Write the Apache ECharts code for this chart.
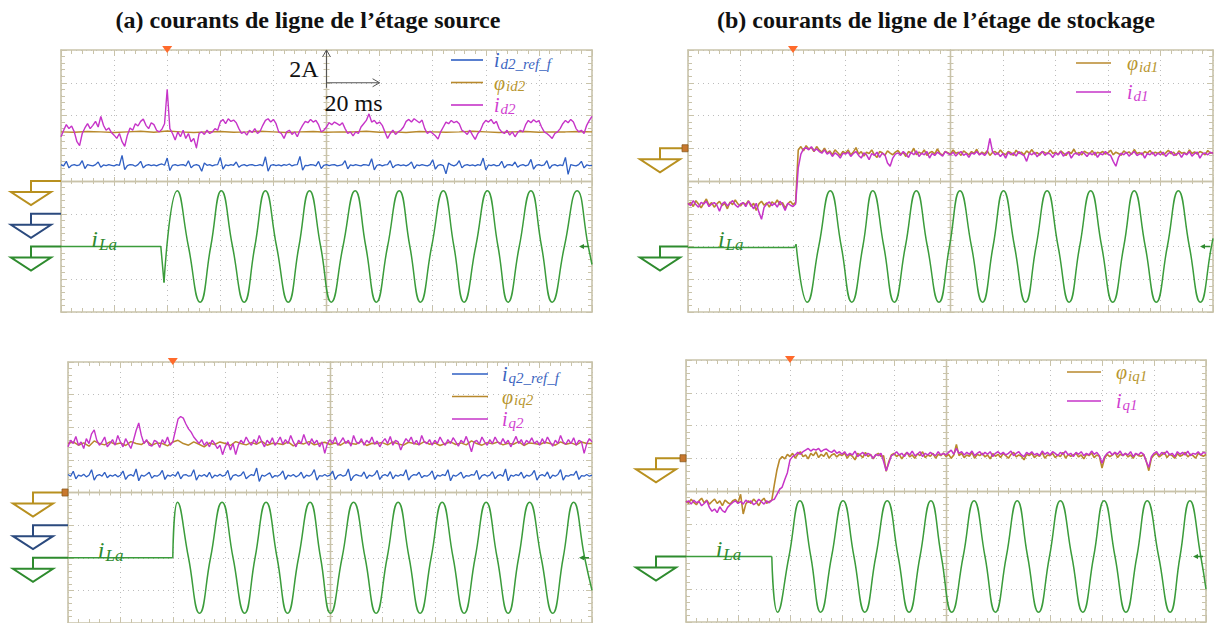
<!DOCTYPE html>
<html>
<head>
<meta charset="utf-8">
<title>courants de ligne</title>
<script src="https://cdn.jsdelivr.net/npm/echarts@6/dist/echarts.min.js"></script>
<style>
html,body{margin:0;padding:0;background:#ffffff;}
#chart{width:1215px;height:623px;}
</style>
</head>
<body>
<div id="chart"></div>
<script>
// ===== DATA (oscilloscope divisions: time -5..5 div, amplitude -4..4 div) =====
const X_MIN = -5, X_MAX = 5, Y_MIN = -4, Y_MAX = 4;
const STEP_FINE = 0.05, STEP_MID = 0.1, STEP_FLAT = 0.25;

const titles = ['(a) courants de ligne de l\u2019étage source', '(b) courants de ligne de l\u2019étage de stockage'];
const scaleLabels = ['2A', '20 ms'];
const iLaText = ['i', 'La'];

const legendA1 = ['id2_ref_f', 'φid2', 'id2'];
const legendB1 = ['φid1', 'id1'];
const legendA2 = ['iq2_ref_f', 'φiq2', 'iq2'];
const legendB2 = ['φiq1', 'iq1'];

// ---- (a) top : source stage, d axis ----
const a1_phi = [1.5,1.49,1.51,1.5,1.48,1.5,1.52,1.49,1.53,1.5,
 1.48,1.5,1.51,1.49,1.5,1.52,1.5,1.48,1.5,1.51,
 1.49,1.5,1.5,1.52,1.49,1.5,1.48,1.51,1.5,1.49,
 1.5,1.52,1.5,1.48,1.5,1.51,1.49,1.5,1.5,1.51,1.5];
const a1_id = [
 1.35,1.55,1.72,1.6,1.68,1.5,1.2,1.08,1.45,1.62,1.75,1.6,1.7,1.82,1.65,1.97,1.7,1.55,1.62,1.48,
 1.4,1.3,1.45,1.2,1.06,1.4,1.62,1.55,1.75,1.68,1.82,1.89,1.7,1.6,1.78,1.72,1.55,1.5,1.58,1.75,
 2.8,1.6,1.45,1.25,1.5,1.35,1.55,1.3,1.45,1.2,1.3,1.01,1.45,1.5,1.42,1.55,1.45,1.5,1.6,1.55,
 1.8,1.88,1.75,1.9,1.82,1.86,1.78,1.6,1.45,1.5,1.4,1.55,1.48,1.6,1.45,1.52,1.7,1.85,1.9,1.8,
 1.88,1.75,1.5,1.45,1.3,1.5,1.55,1.42,1.5,1.35,1.55,1.7,1.82,1.78,1.88,1.8,1.85,1.72,1.5,1.55,
 1.65,1.78,1.72,1.8,1.75,1.7,1.78,1.6,1.45,1.5,1.38,1.5,1.45,1.65,1.75,1.85,2.05,1.8,1.85,1.75,
 1.8,1.7,1.5,1.3,1.45,1.55,1.42,1.5,1.55,1.65,1.82,1.88,1.8,1.9,1.84,1.78,1.86,1.6,1.45,1.52,
 1.45,1.38,1.28,1.5,1.65,1.8,1.75,1.85,1.78,1.82,1.75,1.55,1.5,1.42,1.55,1.4,1.27,1.45,1.55,1.75,
 1.85,1.8,1.88,1.75,1.82,1.6,1.5,1.45,1.55,1.4,1.5,1.35,1.48,1.55,1.5,1.72,1.85,1.78,1.87,1.8,
 1.84,1.65,1.5,1.45,1.38,1.3,1.45,1.5,1.6,1.75,1.85,1.78,1.88,1.8,1.6,1.5,1.55,1.45,1.7,1.85,
 1.97];
const a1_ref = [
 0.5,0.46,0.6,0.4,0.48,0.5,0.47,0.49,0.62,0.38,0.5,0.48,0.46,0.5,0.58,0.42,0.49,0.47,0.5,0.48,
 0.46,0.5,0.48,0.78,0.35,0.47,0.5,0.49,0.45,0.5,0.6,0.4,0.48,0.5,0.47,0.49,0.46,0.5,0.52,0.48,
 0.7,0.32,0.48,0.5,0.47,0.49,0.5,0.46,0.62,0.4,0.48,0.5,0.47,0.3,0.55,0.48,0.5,0.46,0.49,0.5,
 0.72,0.36,0.49,0.47,0.5,0.48,0.58,0.42,0.48,0.5,0.46,0.49,0.5,0.47,0.48,0.5,0.46,0.74,0.3,0.48,
 0.5,0.47,0.49,0.46,0.5,0.48,0.52,0.46,0.49,0.5,0.75,0.33,0.48,0.47,0.5,0.49,0.46,0.6,0.38,0.48,
 0.5,0.47,0.49,0.5,0.46,0.48,0.5,0.62,0.37,0.49,0.47,0.5,0.48,0.46,0.5,0.49,0.47,0.68,0.34,0.48,
 0.5,0.46,0.49,0.5,0.62,0.4,0.48,0.5,0.47,0.49,0.46,0.5,0.58,0.38,0.49,0.47,0.5,0.48,0.46,0.5,
 0.65,0.36,0.48,0.5,0.47,0.22,0.55,0.49,0.46,0.5,0.62,0.4,0.48,0.5,0.47,0.49,0.46,0.5,0.48,0.7,
 0.34,0.49,0.47,0.5,0.46,0.48,0.6,0.4,0.49,0.5,0.47,0.58,0.42,0.48,0.5,0.46,0.49,0.66,0.36,0.48,
 0.5,0.47,0.49,0.62,0.38,0.48,0.5,0.46,0.49,0.47,0.72,0.2,0.5,0.48,0.46,0.5,0.6,0.4,0.49,0.47,
 0.48];
const a1_iLa_pre = [[-5,-2],[-3.12,-2],[-3.06,-3.1]];
const a1_iLa = [[-3.06,-3.1],[-2.81,-0.3],[-2.6,-2.0],[-2.38,-3.7],[-2.18,-2.0],[-1.98,-0.3],[-1.77,-2.0],[-1.55,-3.7],
 [-1.35,-2.0],[-1.15,-0.3],[-0.94,-2.0],[-0.72,-3.7],[-0.52,-2.0],[-0.32,-0.3],[-0.11,-2.0],[0.09,-3.7],[0.31,-2.0],
 [0.54,-0.3],[0.74,-2.0],[0.94,-3.7],[1.15,-2.0],[1.37,-0.3],[1.57,-2.0],[1.77,-3.7],[1.98,-2.0],[2.2,-0.3],[2.4,-2.0],
 [2.59,-3.7],[2.81,-2.0],[3.03,-0.3],[3.23,-2.0],[3.42,-3.7],[3.63,-2.0],[3.85,-0.3],[4.05,-2.0],[4.25,-3.7],[4.48,-2.0],
 [4.72,-0.3],[4.93,-2.0],[5.0,-2.55]];
const a1_grounds = [[-5,0,0],[-5,-1,1],[-5,-2,2]];   // [x, level, channel]

// ---- (b) top : storage stage, d axis ----
const b1_phi = [
 -0.72,-0.65,-0.78,-0.6,-0.7,-0.82,-0.68,-0.55,-0.74,-0.66,-0.8,-0.7,-0.62,-0.75,-0.68,-0.85,-0.64,-0.72,-0.58,-0.7,
 -0.76,-0.66,-0.72,-0.6,-0.78,-0.68,-0.9,-0.7,-0.62,-0.74,-0.67,-0.8,-0.64,-0.71,-0.58,-0.73,-0.66,-0.82,-0.7,-0.62,
 -0.72,-0.65,0.95,1.05,0.92,1.08,0.98,1.02,0.9,1.05,0.95,0.88,1.0,0.85,0.92,0.8,0.95,0.87,0.78,0.9,
 0.85,0.95,0.8,0.88,1.02,0.82,0.9,0.76,0.88,0.84,0.95,0.8,0.72,0.9,0.86,0.78,0.92,0.85,0.8,0.88,
 0.93,0.82,0.87,0.75,0.9,0.85,1.0,0.8,0.88,0.83,0.95,0.78,0.86,0.9,0.82,0.98,0.84,0.79,0.9,0.86,
 0.82,0.95,0.85,0.88,0.78,0.92,0.86,0.8,0.9,0.84,0.97,0.8,0.88,0.83,0.92,0.78,0.87,0.9,0.82,0.95,
 0.85,0.8,0.9,0.86,0.78,0.94,0.84,0.88,0.8,0.92,0.85,0.96,0.82,0.87,0.79,0.9,0.86,0.83,0.95,0.84,
 0.88,0.8,0.92,0.85,0.78,0.9,0.84,0.97,0.82,0.87,0.8,0.91,0.86,0.83,0.93,0.79,0.88,0.85,0.9,0.82,
 0.86,0.94,0.8,0.88,0.84,0.78,0.92,0.85,0.89,0.81,0.96,0.84,0.87,0.8,0.9,0.85,0.93,0.82,0.88,0.84,
 0.9,0.8,0.86,0.94,0.83,0.88,0.78,0.92,0.85,0.87,0.81,0.95,0.84,0.89,0.82,0.9,0.86,0.8,0.93,0.85,
 0.87];
const b1_id = [
 -0.68,-0.75,-0.6,-0.72,-0.8,-0.65,-0.7,-0.62,-0.78,-0.7,-0.66,-0.74,-0.92,-0.7,-0.64,-0.76,-0.68,-0.6,-0.73,-0.8,
 -0.7,-0.66,-0.78,-0.62,-0.72,-0.85,-0.68,-0.95,-1.17,-0.8,-0.7,-0.64,-0.75,-0.68,-0.8,-0.62,-0.72,-0.9,-0.68,-0.74,
 -0.78,-0.7,0.4,0.82,0.98,1.02,0.95,1.05,0.92,0.98,0.9,0.85,0.95,0.82,0.88,0.75,0.86,0.8,0.7,0.85,
 0.82,0.88,0.75,0.84,0.9,0.78,0.7,0.86,0.8,0.65,0.84,0.78,0.88,0.72,0.85,0.8,0.55,0.45,0.7,0.82,
 0.86,0.78,0.9,0.82,0.72,0.88,0.8,0.92,0.75,0.85,0.8,0.9,0.7,0.84,0.78,0.88,0.82,0.76,0.9,0.84,
 0.8,0.88,0.76,0.85,0.9,0.78,0.84,0.72,0.86,0.82,0.9,0.8,0.85,0.78,0.88,1.3,0.9,0.8,0.86,0.75,
 0.84,0.7,0.88,0.8,0.86,0.76,0.9,0.82,0.78,0.6,0.85,0.8,0.88,0.74,0.84,0.9,0.78,0.86,0.82,0.72,
 0.86,0.8,0.9,0.76,0.84,0.88,0.7,0.82,0.86,0.78,0.9,0.84,0.75,0.86,0.8,0.88,0.72,0.84,0.8,0.9,
 0.82,0.78,0.6,0.45,0.72,0.85,0.8,0.88,0.76,0.84,0.9,0.78,0.82,0.86,0.7,0.84,0.8,0.88,0.76,0.85,
 0.8,0.88,0.75,0.84,0.9,0.78,0.82,0.86,0.72,0.85,0.8,0.9,0.76,0.84,0.88,0.7,0.83,0.86,0.8,0.88,
 0.84];
const b1_iLa_pre = [[-5,-2.03],[-2.97,-2.03],[-2.94,-1.93]];
const b1_iLa = [[-2.94,-1.93],[-2.73,-3.7],[-2.51,-2.0],[-2.29,-0.3],[-2.08,-2.0],[-1.88,-3.7],[-1.67,-2.0],[-1.48,-0.3],
 [-1.27,-2.0],[-1.07,-3.7],[-0.86,-2.0],[-0.65,-0.3],[-0.44,-2.0],[-0.22,-3.7],[-0.02,-2.0],[0.18,-0.3],[0.4,-2.0],
 [0.61,-3.7],[0.81,-2.0],[1.01,-0.3],[1.22,-2.0],[1.43,-3.7],[1.63,-2.0],[1.84,-0.3],[2.05,-2.0],[2.26,-3.7],[2.46,-2.0],
 [2.67,-0.3],[2.88,-2.0],[3.09,-3.7],[3.3,-2.0],[3.5,-0.3],[3.71,-2.0],[3.92,-3.7],[4.13,-2.0],[4.34,-0.3],[4.55,-2.0],
 [4.76,-3.7],[4.97,-2.0],[5.0,-1.75]];
const b1_grounds = [[-5,1,0],[-5,-2,2]];

// ---- (a) bottom : source stage, q axis ----
const a2_phi = [
 1.5,1.55,1.45,1.52,1.42,1.58,1.5,1.46,1.55,1.48,
 1.52,1.44,1.56,1.5,1.47,1.58,1.45,1.52,1.5,1.43,
 1.55,1.6,1.5,1.45,1.55,1.48,1.4,1.52,1.47,1.55,
 1.5,1.44,1.56,1.5,1.46,1.53,1.48,1.57,1.45,1.51,
 1.5,1.47,1.55,1.43,1.52,1.49,1.56,1.46,1.5,1.54,
 1.47,1.52,1.45,1.55,1.5,1.48,1.57,1.44,1.51,1.5,
 1.53,1.46,1.55,1.49,1.45,1.54,1.5,1.47,1.56,1.48,
 1.52,1.44,1.5,1.55,1.47,1.52,1.46,1.58,1.5,1.45,
 1.53,1.49,1.55,1.46,1.51,1.48,1.56,1.44,1.52,1.5,
 1.47,1.54,1.5,1.45,1.55,1.48,1.52,1.46,1.55,1.5,
 1.5];
const a2_id = [
 1.4,1.6,1.5,1.72,1.45,1.55,1.35,1.65,1.5,1.8,1.92,1.6,1.45,1.55,1.7,1.4,1.5,1.62,1.45,1.75,
 1.55,1.4,1.65,1.5,1.35,1.6,1.9,2.13,1.75,1.5,1.62,1.45,1.42,1.6,1.55,1.38,1.62,1.5,1.7,1.45,
 1.55,1.9,2.25,2.33,2.28,2.1,1.95,1.85,1.7,1.6,1.5,1.62,1.45,1.55,1.4,1.6,1.5,1.35,1.45,1.16,
 1.4,1.55,1.3,1.5,1.16,1.45,1.6,1.5,1.7,1.55,1.45,1.62,1.5,1.75,1.55,1.4,1.6,1.5,1.68,1.45,
 1.55,1.7,1.48,1.62,1.5,1.75,1.55,1.4,1.6,1.5,1.78,1.55,1.45,1.65,1.5,1.6,1.4,1.55,1.2,1.5,
 1.62,1.5,1.7,1.45,1.55,1.68,1.5,1.6,1.42,1.75,1.55,1.5,1.65,1.45,1.6,1.52,1.7,1.48,1.58,1.4,
 1.55,1.65,1.5,1.72,1.45,1.6,1.55,1.3,1.5,1.65,1.55,1.7,1.48,1.6,1.45,1.75,1.55,1.5,1.62,1.45,
 1.6,1.5,1.7,1.55,1.45,1.62,1.5,1.68,1.55,1.42,1.6,1.52,1.72,1.5,1.25,1.55,1.6,1.48,1.7,1.55,
 1.45,1.62,1.5,1.7,1.55,1.48,1.65,1.5,1.6,1.4,1.55,1.72,1.5,1.62,1.45,1.6,1.52,1.68,1.5,1.58,
 1.45,1.65,1.5,1.7,1.55,1.42,1.6,1.5,1.75,1.55,1.48,1.62,1.5,1.68,1.45,1.6,1.55,1.2,1.5,1.65,
 1.55];
const a2_ref = [
 0.55,0.5,0.65,0.42,0.53,0.5,0.56,0.48,0.53,0.7,0.38,0.52,0.55,0.5,0.62,0.45,0.53,0.5,0.55,0.48,
 0.53,0.66,0.4,0.52,0.55,0.5,0.72,0.36,0.53,0.5,0.55,0.62,0.44,0.52,0.5,0.55,0.68,0.4,0.53,0.5,
 0.55,0.5,0.64,0.42,0.53,0.55,0.5,0.52,0.7,0.38,0.53,0.5,0.55,0.48,0.62,0.44,0.53,0.5,0.56,0.5,
 0.53,0.68,0.38,0.52,0.55,0.5,0.53,0.64,0.42,0.5,0.55,0.52,0.75,0.34,0.53,0.5,0.55,0.6,0.45,0.52,
 0.5,0.55,0.66,0.4,0.53,0.5,0.55,0.48,0.52,0.62,0.44,0.53,0.5,0.55,0.7,0.38,0.52,0.5,0.55,0.5,
 0.53,0.66,0.4,0.52,0.55,0.5,0.53,0.72,0.36,0.5,0.55,0.52,0.5,0.63,0.43,0.53,0.5,0.55,0.68,0.4,
 0.52,0.55,0.5,0.64,0.42,0.53,0.5,0.55,0.52,0.7,0.38,0.5,0.55,0.53,0.62,0.45,0.52,0.5,0.55,0.66,
 0.4,0.53,0.5,0.55,0.52,0.7,0.36,0.53,0.5,0.55,0.62,0.44,0.52,0.5,0.55,0.53,0.68,0.4,0.52,0.55,
 0.5,0.53,0.64,0.42,0.52,0.55,0.5,0.72,0.36,0.53,0.5,0.55,0.52,0.62,0.44,0.53,0.5,0.55,0.68,0.38,
 0.52,0.55,0.5,0.63,0.43,0.53,0.5,0.55,0.7,0.38,0.52,0.5,0.55,0.53,0.66,0.4,0.52,0.5,0.55,0.5,
 0.53];
const a2_iLa_pre = [[-5,-2.0],[-3.0,-2.0]];
const a2_iLa = [[-3.0,-2.0],[-2.91,-0.3],[-2.7,-2.0],[-2.49,-3.7],[-2.28,-2.0],[-2.06,-0.3],[-1.85,-2.0],[-1.63,-3.7],
 [-1.43,-2.0],[-1.22,-0.3],[-1.01,-2.0],[-0.81,-3.7],[-0.6,-2.0],[-0.38,-0.3],[-0.18,-2.0],[0.01,-3.7],[0.23,-2.0],
 [0.45,-0.3],[0.67,-2.0],[0.88,-3.7],[1.09,-2.0],[1.3,-0.3],[1.51,-2.0],[1.72,-3.7],[1.93,-2.0],[2.14,-0.3],[2.35,-2.0],
 [2.56,-3.7],[2.77,-2.0],[2.98,-0.3],[3.19,-2.0],[3.4,-3.7],[3.6,-2.0],[3.81,-0.3],[4.03,-2.0],[4.25,-3.7],[4.45,-2.0],
 [4.65,-0.3],[4.86,-2.0],[5.0,-3.0]];
const a2_grounds = [[-5,0,0],[-5,-1,1],[-5,-2,2]];

// ---- (b) bottom : storage stage, q axis ----
const b2_phi = [
 -0.3,-0.38,-0.25,-0.35,-0.42,-0.3,-0.22,-0.36,-0.28,-0.4,-0.32,-0.25,-0.38,-0.3,-0.45,-0.28,-0.35,-0.4,-0.3,-0.26,
 -0.36,-0.1,-0.7,-0.4,-0.3,-0.38,-0.25,-0.33,-0.45,-0.3,-0.22,-0.38,-0.32,-0.28,0.2,0.65,0.96,1.05,0.98,1.12,
 1.05,1.15,1.0,1.12,1.2,1.05,1.1,0.98,1.15,1.08,1.2,1.02,1.12,1.06,1.18,1.0,1.1,1.14,1.04,1.12,
 1.08,1.16,1.0,1.12,1.06,0.95,1.15,1.1,1.02,1.18,1.05,1.12,0.98,1.1,1.15,1.05,1.08,0.6,0.9,1.1,
 1.15,1.05,1.12,0.98,1.1,1.18,1.04,1.1,1.0,1.14,1.08,1.2,1.02,1.1,1.06,1.15,1.0,1.12,1.08,1.16,
 1.05,1.12,1.0,1.1,1.42,1.08,1.15,1.02,1.1,1.06,1.18,1.0,1.12,1.08,1.15,1.04,1.1,0.98,1.14,1.06,
 1.12,1.02,1.15,1.08,1.0,1.12,1.18,1.04,1.1,1.06,0.95,1.12,1.08,1.15,1.02,1.1,1.06,1.18,1.0,1.1,
 1.08,1.15,1.02,1.1,1.05,1.18,1.0,1.12,1.06,1.1,1.15,1.04,1.1,0.98,1.12,1.08,1.16,1.02,1.1,1.06,
 0.7,1.0,1.12,1.05,1.1,1.18,1.02,1.12,1.08,1.15,1.04,1.1,1.0,1.14,1.08,1.06,1.12,0.92,0.62,1.0,
 1.1,1.15,1.04,1.1,1.18,1.02,1.12,1.08,1.0,1.14,1.06,1.1,1.18,1.04,1.12,1.08,1.0,1.15,1.1,1.06,
 1.12];
const b2_id = [
 -0.35,-0.3,-0.4,-0.28,-0.36,-0.32,-0.45,-0.38,-0.3,-0.5,-0.62,-0.55,-0.66,-0.48,-0.6,-0.65,-0.5,-0.42,-0.35,-0.3,
 -0.38,-0.32,-0.4,-0.28,-0.35,-0.3,-0.42,-0.36,-0.25,-0.33,-0.4,-0.3,-0.36,-0.28,-0.25,-0.1,0.05,0.12,0.35,0.56,
 0.95,1.05,1.1,1.18,1.12,1.2,1.25,1.3,1.22,1.28,1.25,1.3,1.2,1.26,1.28,1.22,1.18,1.25,1.15,1.2,
 1.12,1.2,1.08,1.15,1.1,1.22,1.05,1.12,1.18,1.08,1.15,1.1,1.0,1.12,1.08,1.15,0.9,0.62,0.85,1.08,
 1.12,1.2,1.1,1.15,1.05,1.18,1.1,1.22,1.08,1.12,1.2,1.05,1.15,1.1,1.18,1.12,1.08,1.2,1.1,1.15,
 1.1,1.18,1.25,1.12,1.3,1.15,1.2,1.1,1.18,1.12,1.22,1.08,1.15,1.2,1.1,1.18,1.12,1.2,1.05,1.15,
 1.2,1.12,1.18,1.1,1.15,1.22,1.08,1.15,1.2,1.1,1.05,1.18,1.12,1.2,1.1,1.15,1.08,1.22,1.12,1.18,
 1.1,1.2,1.15,1.08,1.18,1.12,1.22,1.1,1.15,1.05,1.18,1.12,1.2,1.08,1.15,1.1,1.22,1.12,1.18,1.08,
 0.85,1.05,1.15,1.2,1.1,1.18,1.12,1.22,1.08,1.15,1.1,1.2,1.05,1.15,1.1,1.18,1.12,0.9,0.72,1.05,
 1.15,1.2,1.08,1.18,1.12,1.22,1.1,1.15,1.05,1.2,1.12,1.18,1.1,1.22,1.08,1.15,1.12,1.2,1.1,1.18,
 1.15];
const b2_iLa_pre = [[-5,-2.0],[-3.35,-2.0]];
const b2_iLa = [[-3.35,-2.0],[-3.24,-3.7],[-3.02,-2.0],[-2.81,-0.3],[-2.6,-2.0],[-2.41,-3.7],[-2.2,-2.0],[-1.98,-0.3],
 [-1.77,-2.0],[-1.56,-3.7],[-1.35,-2.0],[-1.13,-0.3],[-0.92,-2.0],[-0.71,-3.7],[-0.5,-2.0],[-0.29,-0.3],[-0.09,-2.0],
 [0.11,-3.7],[0.33,-2.0],[0.54,-0.3],[0.75,-2.0],[0.95,-3.7],[1.16,-2.0],[1.37,-0.3],[1.57,-2.0],[1.78,-3.7],[1.99,-2.0],
 [2.2,-0.3],[2.42,-2.0],[2.63,-3.7],[2.84,-2.0],[3.04,-0.3],[3.25,-2.0],[3.46,-3.7],[3.67,-2.0],[3.87,-0.3],[4.09,-2.0],
 [4.31,-3.7],[4.5,-2.0],[4.69,-0.3],[4.9,-2.0],[5.0,-3.0]];
const b2_grounds = [[-5,1,0],[-5,-2,2]];

// markers shared by the four screens
const triggerPos = [[-3, 4]];          // trigger position (top edge)
const levelArrowPos = [[5, -2]];       // trigger level arrow (right edge)
const iLaLabelPos = [[-4.43, -2]];     // label of the i_La trace
const scaleBarA1 = [[0, 3, 1, 1]];     // origin x, origin y, 1 div, 1 div

// ===== STYLE / LAYOUT =====
const SERIF = '"Liberation Serif","Times New Roman",serif';
const BORDER = '#c9c3aa', DOT = '#bcbcbc';
const C_BLUE = '#2f5fc3', C_GOLD = '#b8892c', C_MAG = '#c634c8', C_GREEN = '#3b9c3b';
const T_BLUE = '#3b64c0', T_GOLD = '#b8962f', T_MAG = '#d03fd0', T_GREEN = '#2f8a2f';
const GROUND_COLORS = ['#b8901f', '#2b4a7e', '#2e8b2e'];
const PANELS = [
  {left:61,  top:50,  width:531, height:262, gOff:30},
  {left:688, top:50,  width:525, height:262, gOff:28},
  {left:68,  top:362, width:524, height:262, gOff:35},
  {left:686, top:360, width:520, height:262, gOff:30}
];
const LEG_MAIN = 20, LEG_SUB = 15, LEG_DROP = 7;
const LEGEND_H = LEG_SUB + LEG_DROP;   // height of one legend text box

function sampled(values, step) {
  return values.map((v, i) => [+(X_MIN + i * step).toFixed(3), v]);
}

function xAxesFor(gi) {
  const common = {type:'value', gridIndex:gi, min:X_MIN, max:X_MAX, interval:1, axisLabel:{show:false}, splitLine:{show:false}};
  const tick = (inside, len) => ({show:true, inside:inside, length:len, lineStyle:{color:BORDER, width:1}});
  const minor = (len) => ({show:true, splitNumber:5, length:len, lineStyle:{color:BORDER, width:1}});
  return [
    Object.assign({}, common, {position:'bottom', axisLine:{show:true, onZero:false, lineStyle:{color:BORDER, width:1.6}}, axisTick:tick(true,6), minorTick:minor(4),
      splitLine:{show:true, lineStyle:{color:DOT, width:1, type:[1,4]}}}),
    Object.assign({}, common, {position:'top', axisLine:{show:true, onZero:false, lineStyle:{color:BORDER, width:1.6}}, axisTick:tick(true,6), minorTick:minor(4)}),
    Object.assign({}, common, {position:'bottom', axisLine:{show:true, onZero:true, onZeroAxisIndex:4*gi, lineStyle:{color:BORDER, width:1.3}}, axisTick:tick(true,4), minorTick:minor(3)}),
    Object.assign({}, common, {position:'bottom', axisLine:{show:true, onZero:true, onZeroAxisIndex:4*gi, lineStyle:{color:BORDER, width:1.3}}, axisTick:tick(false,4), minorTick:minor(3)})
  ];
}
function yAxesFor(gi) {
  const common = {type:'value', gridIndex:gi, min:Y_MIN, max:Y_MAX, interval:1, axisLabel:{show:false}, splitLine:{show:false}};
  const tick = (inside, len) => ({show:true, inside:inside, length:len, lineStyle:{color:BORDER, width:1}});
  const minor = (len) => ({show:true, splitNumber:5, length:len, lineStyle:{color:BORDER, width:1}});
  return [
    Object.assign({}, common, {position:'left', axisLine:{show:true, onZero:false, lineStyle:{color:BORDER, width:1.6}}, axisTick:tick(true,6), minorTick:minor(4),
      splitLine:{show:true, lineStyle:{color:DOT, width:1, type:[1,4]}}}),
    Object.assign({}, common, {position:'right', axisLine:{show:true, onZero:false, lineStyle:{color:BORDER, width:1.6}}, axisTick:tick(true,6), minorTick:minor(4)}),
    Object.assign({}, common, {position:'left', axisLine:{show:true, onZero:true, onZeroAxisIndex:4*gi, lineStyle:{color:BORDER, width:1.3}}, axisTick:tick(true,4), minorTick:minor(3)}),
    Object.assign({}, common, {position:'left', axisLine:{show:true, onZero:true, onZeroAxisIndex:4*gi, lineStyle:{color:BORDER, width:1.3}}, axisTick:tick(false,4), minorTick:minor(3)})
  ];
}

function trace(name, data, color, gi, width, smooth, z) {
  return {type:'line', name:name, data:data, xAxisIndex:4*gi, yAxisIndex:4*gi, symbol:'none', showSymbol:false,
    smooth:smooth || false, lineStyle:{color:color, width:width}, itemStyle:{color:color}, animation:false, silent:true, z:z || 3, clip:true};
}

function groundRenderer(offset, withSquare) {
  return function (params, api) {
    const p = api.coord([api.value(0), api.value(1)]);
    const ch = api.value(2);
    const c = GROUND_COLORS[ch];
    const x0 = p[0], y0 = p[1], xv = x0 - offset;
    const kids = [
      {type:'polyline', shape:{points:[[x0, y0], [xv, y0], [xv, y0 + 11]]}, style:{stroke:c, lineWidth:2, fill:'none'}},
      {type:'polygon', shape:{points:[[xv - 20, y0 + 11], [xv + 20, y0 + 11], [xv, y0 + 24]]}, style:{stroke:c, lineWidth:2, fill:'#ffffff'}}
    ];
    if (ch === 0 && withSquare) {
      kids.push({type:'rect', shape:{x:x0 - 6, y:y0 - 3.5, width:6, height:7}, style:{fill:'#c8782e', stroke:'#8a5a20', lineWidth:0.8}});
    }
    return {type:'group', children:kids};
  };
}
function triggerRenderer(params, api) {
  const p = api.coord([api.value(0), api.value(1)]);
  return {type:'polygon', shape:{points:[[p[0] - 5, p[1] - 4], [p[0] + 5, p[1] - 4], [p[0], p[1] + 3]]}, style:{fill:'#ff6a2b'}};
}
function levelArrowRenderer(params, api) {
  const p = api.coord([api.value(0), api.value(1)]);
  return {type:'group', children:[
    {type:'line', shape:{x1:p[0] - 10, y1:p[1], x2:p[0] - 3, y2:p[1]}, style:{stroke:T_GREEN, lineWidth:1.5}},
    {type:'polygon', shape:{points:[[p[0] - 13, p[1]], [p[0] - 8, p[1] - 2.5], [p[0] - 8, p[1] + 2.5]]}, style:{fill:T_GREEN}}
  ]};
}
function iLaRenderer(params, api) {
  const p = api.coord([api.value(0), api.value(1)]);
  return {type:'text', x:p[0], y:p[1] - 8, style:{
    text:'{m|' + iLaText[0] + '}{s|' + iLaText[1] + '}', fill:T_GREEN, align:'left', verticalAlign:'middle',
    rich:{
      m:{font:'italic 24px ' + SERIF, fill:T_GREEN, lineHeight:20},
      s:{font:'italic 17px ' + SERIF, fill:T_GREEN, lineHeight:20, padding:[12, 0, 0, 1]}
    }}};
}
function scaleBarRenderer(params, api) {
  const ox = api.value(0), oy = api.value(1), dx = api.value(2), dy = api.value(3);
  const o = api.coord([ox, oy]);
  const xe = api.coord([ox + dx, oy]);
  const ye = api.coord([ox, oy + dy]);
  const yText = api.coord([ox, oy + dy * 0.42]);
  const xText = api.coord([ox, oy - dy * 0.63]);
  const st = {stroke:'#555555', lineWidth:1, fill:'none'};
  return {type:'group', children:[
    {type:'line', shape:{x1:o[0], y1:o[1] + 5, x2:ye[0], y2:ye[1]}, style:st},
    {type:'polyline', shape:{points:[[ye[0] - 4, ye[1] + 7], [ye[0], ye[1]], [ye[0] + 4, ye[1] + 7]]}, style:st},
    {type:'line', shape:{x1:o[0], y1:o[1], x2:xe[0], y2:xe[1]}, style:st},
    {type:'polyline', shape:{points:[[xe[0] - 7, xe[1] - 4], [xe[0], xe[1]], [xe[0] - 7, xe[1] + 4]]}, style:st},
    {type:'text', x:o[0] - 8, y:yText[1], style:{text:scaleLabels[0], fill:'#111111', font:'24px ' + SERIF, align:'right', verticalAlign:'middle'}},
    {type:'text', x:o[0] - 2, y:xText[1], style:{text:scaleLabels[1], fill:'#111111', font:'24px ' + SERIF, align:'left', verticalAlign:'middle'}}
  ]};
}
function custom(name, gi, data, renderItem) {
  return {type:'custom', name:name, coordinateSystem:'cartesian2d', xAxisIndex:4*gi, yAxisIndex:4*gi, data:data,
    renderItem:renderItem, clip:false, silent:true, animation:false, z:6};
}

function richFor(padLeft) {
  return {
    m:{fontFamily:SERIF, fontStyle:'italic', fontSize:LEG_MAIN, verticalAlign:'middle', padding:[0, 0, 0, padLeft]},
    s:{fontFamily:SERIF, fontStyle:'italic', fontSize:LEG_SUB, verticalAlign:'middle', padding:[LEG_DROP, 0, 0, 1]}
  };
}
// firstRow: y of the first legend line; rowGap: distance between rows
function legendFor(names, colors, left, firstRow, rowGap, itemWidth, padLeft) {
  return {orient:'vertical', left:left, top:firstRow - LEGEND_H / 2 - 2, padding:0, itemGap:rowGap - LEGEND_H, itemWidth:itemWidth, itemHeight:1.6, icon:'rect',
    selectedMode:false, backgroundColor:'transparent',
    data:names.map((n, k) => ({name:n, textStyle:{color:colors[k]}})),
    formatter:function (n) { return '{m|' + n.charAt(0) + '}{s|' + n.slice(1) + '}'; },
    textStyle:{rich:richFor(padLeft)}};
}

const xAxis = [], yAxis = [];
for (let gi = 0; gi < 4; gi++) { xAxis.push.apply(xAxis, xAxesFor(gi)); yAxis.push.apply(yAxis, yAxesFor(gi)); }

const series = [
  // (a) top
  trace(legendA1[1], sampled(a1_phi, STEP_FLAT), C_GOLD, 0, 1.5),
  trace(legendA1[2], sampled(a1_id, STEP_FINE), C_MAG, 0, 1.4, false, 4),
  trace(legendA1[0], sampled(a1_ref, STEP_FINE), C_BLUE, 0, 1.3),
  trace('iLa (a) pre', a1_iLa_pre, C_GREEN, 0, 1.5),
  trace('iLa (a)', a1_iLa, C_GREEN, 0, 1.5, 0.5),
  custom('grounds a1', 0, a1_grounds, groundRenderer(PANELS[0].gOff, false)),
  custom('trigger a1', 0, triggerPos, triggerRenderer),
  custom('level a1', 0, levelArrowPos, levelArrowRenderer),
  custom('label a1', 0, iLaLabelPos, iLaRenderer),
  custom('scale a1', 0, scaleBarA1, scaleBarRenderer),
  // (b) top
  trace(legendB1[0], sampled(b1_phi, STEP_FINE), C_GOLD, 1, 1.6),
  trace(legendB1[1], sampled(b1_id, STEP_FINE), C_MAG, 1, 1.5, false, 4),
  trace('iLa (b) pre', b1_iLa_pre, C_GREEN, 1, 1.5),
  trace('iLa (b)', b1_iLa, C_GREEN, 1, 1.5, 0.5),
  custom('grounds b1', 1, b1_grounds, groundRenderer(PANELS[1].gOff, true)),
  custom('trigger b1', 1, triggerPos, triggerRenderer),
  custom('level b1', 1, levelArrowPos, levelArrowRenderer),
  custom('label b1', 1, iLaLabelPos, iLaRenderer),
  // (a) bottom
  trace(legendA2[1], sampled(a2_phi, STEP_MID), C_GOLD, 2, 1.5),
  trace(legendA2[2], sampled(a2_id, STEP_FINE), C_MAG, 2, 1.4, false, 4),
  trace(legendA2[0], sampled(a2_ref, STEP_FINE), C_BLUE, 2, 1.3),
  trace('iLa (c) pre', a2_iLa_pre, C_GREEN, 2, 1.5),
  trace('iLa (c)', a2_iLa, C_GREEN, 2, 1.5, 0.5),
  custom('grounds a2', 2, a2_grounds, groundRenderer(PANELS[2].gOff, true)),
  custom('trigger a2', 2, triggerPos, triggerRenderer),
  custom('level a2', 2, levelArrowPos, levelArrowRenderer),
  custom('label a2', 2, iLaLabelPos, iLaRenderer),
  // (b) bottom
  trace(legendB2[0], sampled(b2_phi, STEP_FINE), C_GOLD, 3, 1.6),
  trace(legendB2[1], sampled(b2_id, STEP_FINE), C_MAG, 3, 1.5, false, 4),
  trace('iLa (d) pre', b2_iLa_pre, C_GREEN, 3, 1.5),
  trace('iLa (d)', b2_iLa, C_GREEN, 3, 1.5, 0.5),
  custom('grounds b2', 3, b2_grounds, groundRenderer(PANELS[3].gOff, true)),
  custom('trigger b2', 3, triggerPos, triggerRenderer),
  custom('level b2', 3, levelArrowPos, levelArrowRenderer),
  custom('label b2', 3, iLaLabelPos, iLaRenderer)
];

const option = {
  backgroundColor:'#ffffff',
  animation:false,
  title:[
    {text:titles[0], left:308, top:8, textAlign:'center', padding:0, textStyle:{fontFamily:SERIF, fontWeight:'bold', fontSize:24, color:'#111111'}},
    {text:titles[1], left:936, top:8, textAlign:'center', padding:0, textStyle:{fontFamily:SERIF, fontWeight:'bold', fontSize:24, color:'#111111'}}
  ],
  grid:PANELS.map(p => ({left:p.left, top:p.top, width:p.width, height:p.height, containLabel:false, show:false})),
  legend:[
    legendFor(legendA1, [T_BLUE, T_GOLD, T_MAG], 451, 63, 23.5, 32, 6),
    legendFor(legendB1, [T_GOLD, T_MAG], 1076, 66, 30, 35, 11),
    legendFor(legendA2, [T_BLUE, T_GOLD, T_MAG], 452, 377, 23.5, 36, 9),
    legendFor(legendB2, [T_GOLD, T_MAG], 1067, 375, 30, 34, 10)
  ],
  tooltip:{show:false},
  xAxis:xAxis,
  yAxis:yAxis,
  series:series
};

const chart = echarts.init(document.getElementById('chart'), null, {renderer:'svg', width:1215, height:623});
chart.setOption(option);
</script>
</body>
</html>
